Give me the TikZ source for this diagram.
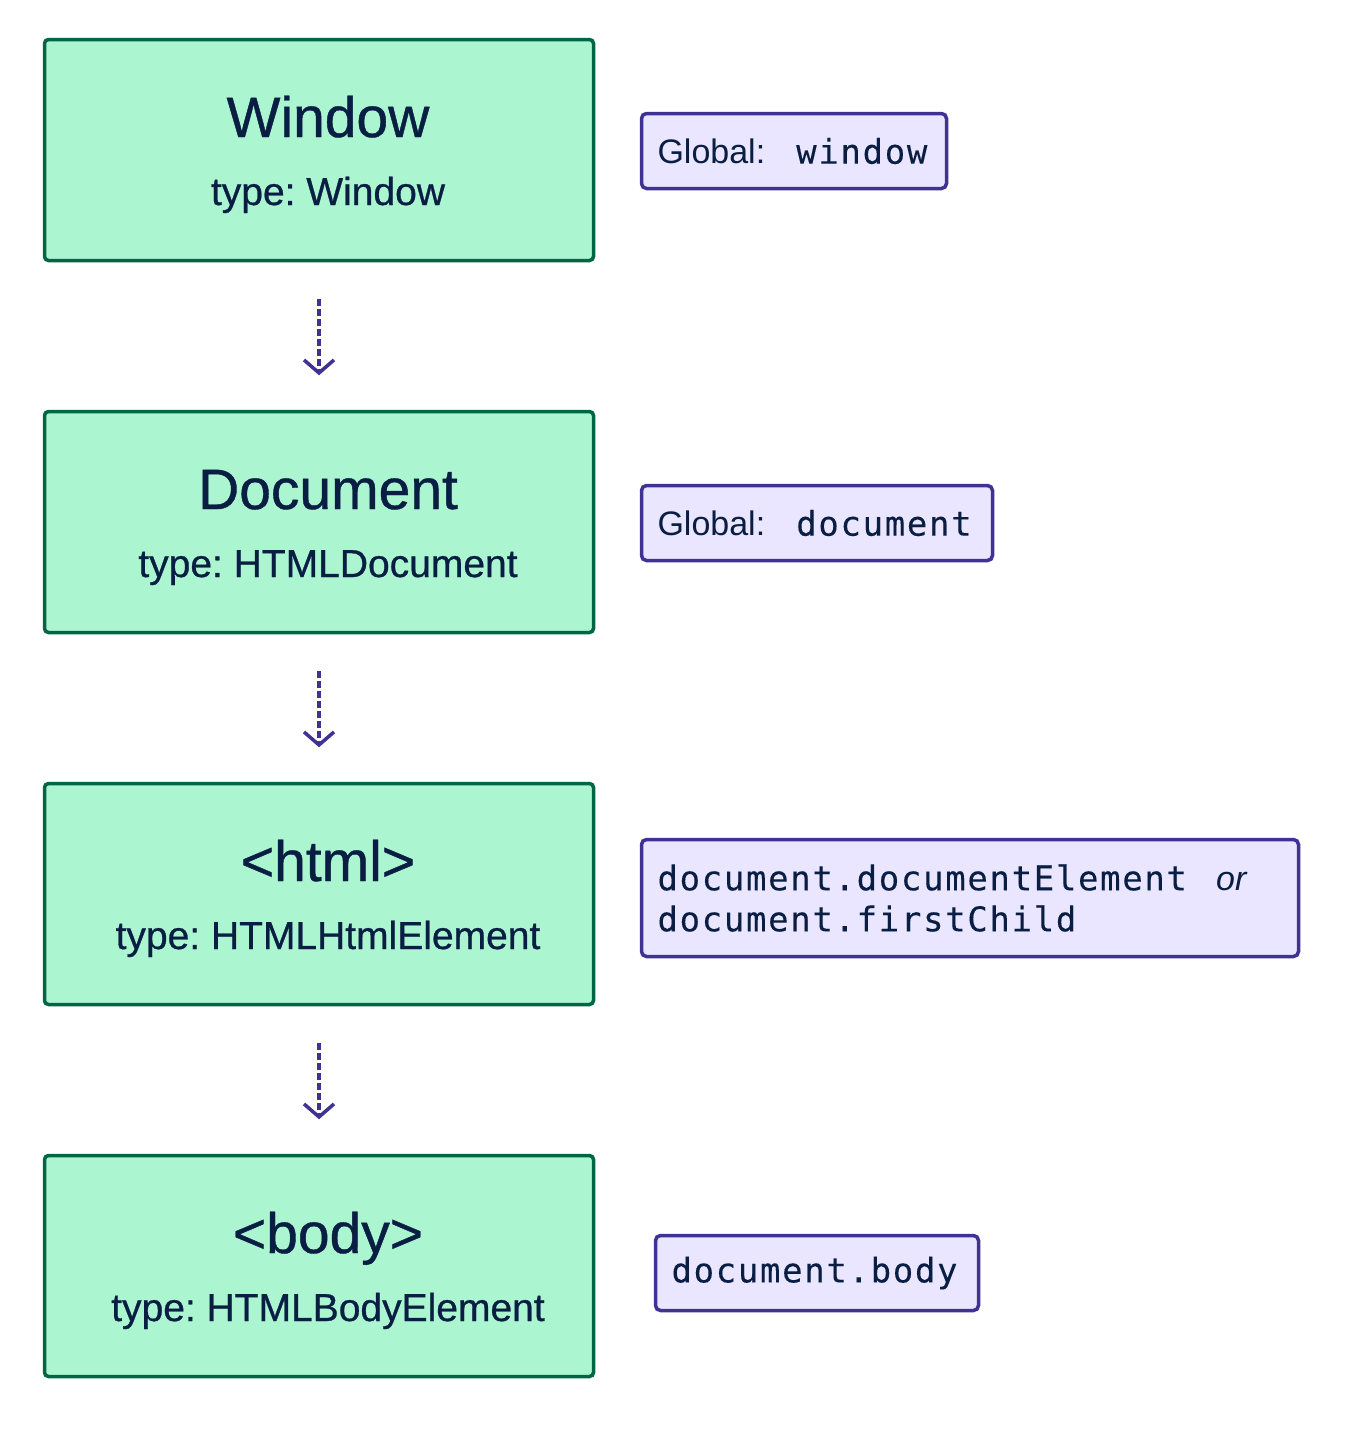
\documentclass[tikz,border=0pt]{standalone}
\usepackage{fontspec}
\setmainfont{Liberation Sans}
\newfontfamily\medfont[FakeBold=0.7]{Liberation Sans}
\newfontfamily\codefont[LetterSpace=4.9,FakeBold=0.15]{DejaVu Sans Mono}
\usetikzlibrary{arrows.meta}
\definecolor{gfill}{HTML}{ABF5D1}
\definecolor{gline}{HTML}{006644}
\definecolor{pfill}{HTML}{EAE6FF}
\definecolor{pline}{HTML}{403294}
\definecolor{ink}{HTML}{091E42}
\frenchspacing
\tikzset{
  objbox/.style={draw=gline, fill=gfill, line width=3.5pt, rounded corners=4pt,
    minimum width=549pt, minimum height=221pt, inner sep=0pt},
  titletext/.style={anchor=base, text=ink, inner sep=0pt, font=\medfont\fontsize{57}{68}\selectfont},
  typetext/.style={anchor=base, text=ink, inner sep=0pt, font=\medfont\fontsize{39}{47}\selectfont},
  refbox/.style={draw=pline, fill=pfill, line width=3.5pt, rounded corners=5pt,
    inner xsep=16pt, inner ysep=0pt, align=left, text=ink,
    font=\fontsize{34}{41}\selectfont},
  flow/.style={draw=pline, line width=3.5pt, dash pattern=on 7pt off 3pt,
    -{Straight Barb[length=13pt,width=30pt]}, shorten <=36.5pt, shorten >=34.5pt}
}
\begin{document}
\begin{tikzpicture}[x=1pt,y=-1pt]
\useasboundingbox[fill=white] (0,0) rectangle (1348,1430);

\node[objbox] (win) at (319,150) {};
\node[objbox] (doc) at (319,522) {};
\node[objbox] (html) at (319,894) {};
\node[objbox] (body) at (319,1266) {};

\node[titletext] (wint) at (328,137) {Window};
\node[typetext] (wins) at (328,205) {type: Window};
\node[titletext] (doct) at (328,509) {Document};
\node[typetext] (docs) at (328,577) {type: HTMLDocument};
\node[titletext] (htmlt) at (328,881) {<html>};
\node[typetext] (htmls) at (328,949) {type: HTMLHtmlElement};
\node[titletext] (bodyt) at (328,1253) {<body>};
\node[typetext] (bodys) at (328,1321) {type: HTMLBodyElement};

\draw[flow] (win) -- (doc);
\draw[flow] (doc) -- (html);
\draw[flow] (html) -- (body);

\node[refbox, text width=273pt, minimum height=75pt] (gw) at (794,151) {Global:\hspace{31pt}{\codefont window}};
\node[refbox, text width=319pt, minimum height=75pt] (gd) at (817,523) {Global:\hspace{31pt}{\codefont document}};
\node[refbox, text width=625pt, minimum height=117pt] (de) at (970,898) {{\codefont document.documentElement}\hspace{29pt}\textit{or}\\{\codefont document.firstChild}};
\node[refbox, text width=291pt, minimum height=75pt] (db) at (817,1273) {{\codefont document.body}};
\end{tikzpicture}
\end{document}
